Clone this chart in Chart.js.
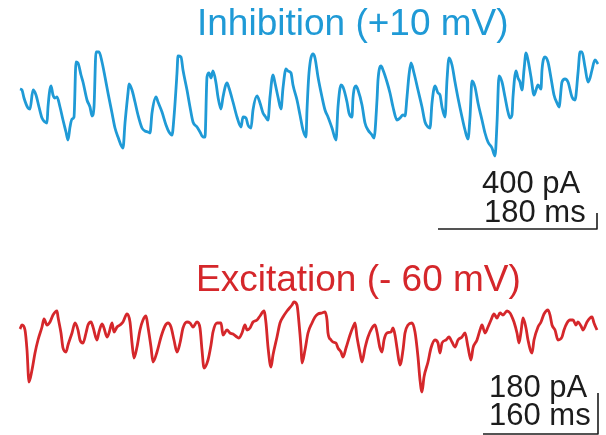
<!DOCTYPE html>
<html>
<head>
<meta charset="utf-8">
<script src="https://cdn.jsdelivr.net/npm/chart.js@4"></script>
<style>
  html, body { margin: 0; padding: 0; background: #fff; }
  #traces { display: block; }
</style>
</head>
<body>
<canvas id="traces" width="606" height="435"></canvas>
<script>
// trazas (tiempo en px de la figura, corriente en px, eje invertido)
const blueT = [20,22,24,28,30,33,36,39,42,45,47,48,51,53,55,57,60,63,66,68,70,72,74,76,78,81,83,87,90,92,94,96,99,102,105,108,112,115,118,123,125,128,129,132,135,138,142,145,148,150,152,156,158,162,166,169,172,174,177,178,181,183,187,190,193,197,200,203,205,207,209,211,213,216,218,221,223,227,229,233,237,241,243,246,248,251,253,257,260,263,265,268,270,273,275,278,281,283,286,288,291,293,297,300,303,306,307,309,313,315,318,322,325,328,332,336,338,341,343,347,349,352,353,356,358,362,365,368,372,374,377,378,381,383,387,390,393,397,400,403,405,407,409,411,414,418,422,425,428,430,432,435,438,440,442,445,447,449,452,455,458,462,465,468,470,472,475,478,482,485,488,492,495,497,499,502,505,508,510,512,513,516,518,520,522,524,526,528,531,534,536,538,541,542,545,548,551,554,557,559,562,565,568,572,575,578,580,582,585,588,590,592,595,598];
const blueI = [89,90,98,108,109,90,95,107,118,122,123,107,86,95,98,97,107,120,132,140,127,119,117,62,63,75,82,100,107,116,107,52,52,62,77,93,113,128,137,148,123,93,84,90,102,115,128,131,132,133,113,97,102,112,125,132,135,117,73,56,57,70,90,107,122,127,132,137,137,77,73,78,71,83,97,109,97,83,88,102,117,127,117,118,125,128,110,96,103,113,116,120,97,75,83,97,109,88,69,71,73,85,100,115,130,137,110,73,54,58,77,97,110,117,128,140,107,85,87,102,113,117,98,86,90,105,123,130,135,138,100,80,66,70,82,93,107,120,118,115,116,97,75,63,73,90,107,122,127,128,103,86,93,95,107,117,80,58,65,82,98,117,130,139,117,81,87,103,120,133,142,148,156,123,76,82,97,112,118,115,97,71,78,82,90,70,53,60,77,95,90,85,89,70,57,62,78,95,103,107,82,79,82,97,100,73,52,52,67,82,78,70,60,64];

const redT = [20,22,25,27,29,32,35,38,42,44,47,50,53,57,58,61,63,66,68,72,75,78,80,83,86,88,91,93,97,99,102,104,107,109,112,114,117,120,123,127,130,132,134,137,140,143,146,148,151,153,157,161,165,168,171,174,177,180,183,187,190,193,197,200,202,204,208,211,213,217,221,223,227,230,233,237,239,242,245,247,250,253,257,260,264,266,268,271,273,277,280,283,287,292,294,297,299,301,302,305,308,312,315,318,322,325,327,328,331,333,336,338,341,343,346,350,353,355,357,360,362,365,368,372,375,377,380,382,384,387,391,393,395,397,400,403,405,408,412,415,418,420,422,424,428,431,435,438,440,442,446,449,452,455,458,462,465,468,471,473,477,480,482,485,488,491,494,497,500,503,507,510,512,514,517,519,521,523,526,528,532,534,538,541,544,548,550,552,555,558,562,564,567,570,573,576,578,581,583,587,590,592,594,597];
const redI = [329,325,330,350,382,370,353,340,327,319,325,322,315,311,317,333,348,352,345,333,323,330,340,343,333,325,322,327,340,332,324,328,337,333,323,332,327,325,322,314,322,343,358,347,330,320,316,327,347,362,352,337,326,323,327,340,352,343,328,322,323,327,322,328,350,368,360,345,332,323,323,335,330,333,334,337,338,333,325,330,328,322,320,316,311,323,347,367,355,337,323,317,311,305,302,305,323,347,363,350,333,323,317,314,313,312,320,333,340,342,343,348,352,357,348,335,327,323,337,353,362,348,337,328,325,332,348,352,340,333,332,328,335,348,365,350,333,325,323,332,357,380,392,377,362,348,340,343,353,343,340,337,342,347,340,337,333,347,360,348,340,330,325,333,327,320,314,318,313,315,311,313,317,322,333,343,332,318,328,340,353,340,327,322,314,310,315,325,330,340,337,330,323,320,320,325,322,326,330,322,318,317,323,330];

const titles = ['Inhibition (+10 mV)', 'Excitation (- 60 mV)'];
const scaleLabels = [['400 pA', '180 ms'], ['180 pA', '160 ms']];

// barras de escala (esquina horizontal-vertical)
const blueBarT = [438, 597, 597];
const blueBarI = [229, 229, 213];
const redBarT = [483, 598, 598];
const redBarI = [434, 434, 393];

const BLUE = '#1f9ad6';
const RED = '#d5272b';
const INK = '#1c1c1c';

const toPts = (t, v) => t.map((x, i) => ({ x: x, y: v[i] }));

const textPlugin = {
    id: 'textos',
    afterDraw(chart) {
        const { ctx, scales } = chart;
        const px = v => scales.x.getPixelForValue(v);
        const py = v => scales.y.getPixelForValue(v);
        ctx.save();
        ctx.textBaseline = 'alphabetic';
        ctx.textAlign = 'left';

        ctx.font = '37px "Liberation Sans", Arial, sans-serif';
        ctx.fillStyle = BLUE;
        ctx.fillText(titles[0], px(197), py(35));
        ctx.fillStyle = RED;
        ctx.fillText(titles[1], px(196), py(291));

        ctx.font = '31px "Liberation Sans", Arial, sans-serif';
        ctx.fillStyle = INK;
        ctx.fillText(scaleLabels[0][0], px(482), py(193));
        ctx.fillText(scaleLabels[0][1], px(484), py(222));
        ctx.fillText(scaleLabels[1][0], px(489), py(397));
        ctx.fillText(scaleLabels[1][1], px(489), py(425));
        ctx.restore();
    }
};

new Chart(document.getElementById('traces'), {
    type: 'line',
    data: {
        datasets: [
            { data: toPts(blueT, blueI), borderColor: BLUE, borderWidth: 2.8, cubicInterpolationMode: 'monotone' },
            { data: toPts(redT, redI), borderColor: RED, borderWidth: 2.8, cubicInterpolationMode: 'monotone' },
            { data: toPts(blueBarT, blueBarI), borderColor: INK, borderWidth: 1.6 },
            { data: toPts(redBarT, redBarI), borderColor: INK, borderWidth: 1.6 }
        ]
    },
    options: {
        responsive: false,
        animation: false,
        layout: { padding: 0 },
        elements: {
            point: { radius: 0 },
            line: { tension: 0, borderJoinStyle: 'round', borderCapStyle: 'butt' }
        },
        plugins: { legend: { display: false }, tooltip: { enabled: false } },
        scales: {
            x: { type: 'linear', min: 0, max: 606, display: false },
            y: { type: 'linear', min: 0, max: 435, reverse: true, display: false }
        }
    },
    plugins: [textPlugin]
});
</script>
</body>
</html>
